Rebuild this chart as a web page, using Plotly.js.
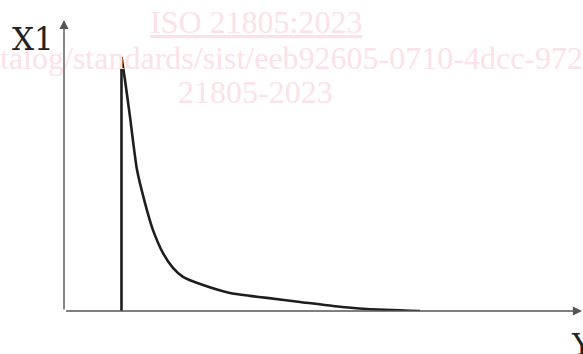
<!DOCTYPE html>
<html>
<head>
<meta charset="utf-8">
<script src="https://cdn.plot.ly/plotly-3.0.1.min.js"></script>
<style>html,body{margin:0;padding:0;background:#fff;}#chart{width:583px;height:354px;}</style>
</head>
<body>
<div id="chart"></div>
<script>
// Vertical rise at the onset
var riseX = [11.14, 11.14];
var riseY = [0, 87.3];
// Decaying curve after the peak
var curveX = [11.14, 11.82, 12.79, 14.15, 15.70, 17.25, 19.19, 21.12, 23.06, 26.94, 32.17, 36.05, 39.34, 45.74, 52.13, 58.72, 68.99];
var curveY = [87.3, 79.4, 66.7, 48.5, 37.1, 27.8, 19.9, 14.8, 11.7, 8.9, 6.2, 5.2, 4.5, 3.1, 1.7, 0.7, 0];
var xAxisLabel = 'Y';
var yAxisLabel = 'X1';
var watermark = ['ISO 21805:2023', 'talog/standards/sist/eeb92605-0710-4dcc-972', '21805-2023'];

var wmColor = 'rgb(251,226,233)';
var lineColor = '#1e1e1e';

var traces = [
  {x: riseX, y: riseY, mode: 'lines', line: {color: lineColor, width: 2.6}, hoverinfo: 'skip'},
  {x: curveX, y: curveY, mode: 'lines', line: {color: lineColor, width: 2.6, shape: 'spline', smoothing: 0.6}, hoverinfo: 'skip'}
];

var layout = {
  width: 583, height: 354,
  margin: {l: 64, r: 3, t: 20, b: 43},
  paper_bgcolor: '#fff', plot_bgcolor: 'rgba(0,0,0,0)',
  showlegend: false,
  xaxis: {range: [0, 100], visible: false, fixedrange: true},
  yaxis: {range: [0, 100], visible: false, fixedrange: true},
  annotations: [
    // watermark
    {xref: 'paper', yref: 'paper', x: 0.372, y: 1, yshift: -2, text: '<u>' + watermark[0] + '</u>', showarrow: false,
     font: {family: 'Liberation Serif', size: 32, color: wmColor}, xanchor: 'center', yanchor: 'middle'},
    {xref: 'paper', yref: 'paper', x: 0.44, y: 1, yshift: -38, text: watermark[1], showarrow: false,
     font: {family: 'Liberation Serif', size: 32, color: wmColor}, xanchor: 'center', yanchor: 'middle'},
    {xref: 'paper', yref: 'paper', x: 0.372, y: 1, yshift: -72, text: watermark[2], showarrow: false,
     font: {family: 'Liberation Serif', size: 32, color: wmColor}, xanchor: 'center', yanchor: 'middle'},
    // y axis with arrow
    {xref: 'paper', yref: 'paper', x: 0, y: 1, ax: 0, ay: 291, axref: 'pixel', ayref: 'pixel', text: '', showarrow: true,
     arrowhead: 2, arrowsize: 1.3, arrowwidth: 1.4, arrowcolor: '#555'},
    // x axis with arrow
    {xref: 'paper', yref: 'paper', x: 1.005, y: 0, ax: -518, ay: 0, text: '', showarrow: true,
     arrowhead: 2, arrowsize: 1.3, arrowwidth: 1.4, arrowcolor: '#555'},
    // axis labels
    {xref: 'paper', yref: 'paper', x: 0, y: 1, xshift: -54, yshift: -19, text: yAxisLabel, showarrow: false,
     font: {family: 'DejaVu Serif', size: 31, color: '#222'}, xanchor: 'left', yanchor: 'middle'},
    {xref: 'paper', yref: 'paper', x: 1, y: 0, xshift: -11, yshift: -33, text: xAxisLabel, showarrow: false,
     font: {family: 'DejaVu Serif', size: 30, color: '#222'}, xanchor: 'left', yanchor: 'middle'}
  ]
};

Plotly.newPlot('chart', traces, layout, {staticPlot: true, displayModeBar: false});
</script>
</body>
</html>
